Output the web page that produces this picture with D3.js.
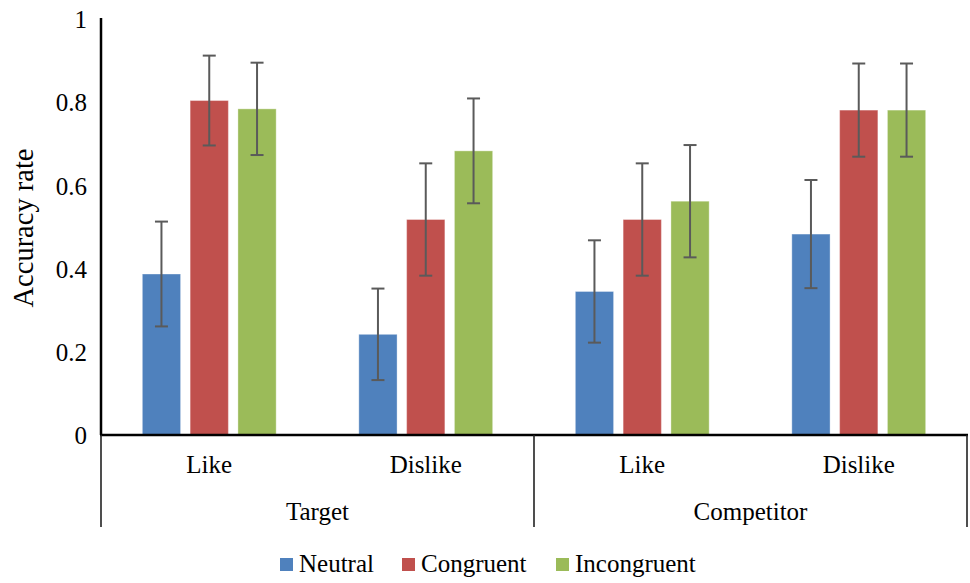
<!DOCTYPE html>
<html>
<head>
<meta charset="utf-8">
<script src="https://cdn.jsdelivr.net/npm/d3@7"></script>
<style>
  html, body { margin: 0; padding: 0; background: #fff; }
  svg { display: block; font-family: "Liberation Serif", "Times New Roman", serif; }
</style>
</head>
<body>
<svg id="chart" width="970" height="583"></svg>
<script>
// Accuracy by condition: Target / Competitor x Like / Dislike
const groups = ["Target", "Competitor"];
const categories = ["Like", "Dislike", "Like", "Dislike"];
const categoryGroup = ["Target", "Target", "Competitor", "Competitor"];
const seriesNames = ["Neutral", "Congruent", "Incongruent"];
const seriesColors = ["#4F81BD", "#C0504D", "#9BBB59"];

const neutral = [0.387, 0.242, 0.345, 0.483];
const congruent = [0.804, 0.518, 0.518, 0.781];
const incongruent = [0.784, 0.683, 0.562, 0.781];

const neutralErr = [0.126, 0.110, 0.123, 0.130];
const congruentErr = [0.108, 0.135, 0.135, 0.112];
const incongruentErr = [0.111, 0.126, 0.135, 0.112];

const yTicks = [0, 0.2, 0.4, 0.6, 0.8, 1];
const yTickLabels = ["0", "0.2", "0.4", "0.6", "0.8", "1"];

const seriesValues = [neutral, congruent, incongruent];
const seriesErrors = [neutralErr, congruentErr, incongruentErr];

const svg = d3.select("#chart");
const plot = { left: 101, right: 967, top: 19, bottom: 435 };

const y = d3.scaleLinear().domain([0, 1]).range([plot.bottom, plot.top]);
const x = d3.scaleBand().domain(d3.range(categories.length))
  .range([plot.left, plot.right]).paddingInner(0).paddingOuter(0);
const xs = d3.scaleBand().domain(seriesNames)
  .range([0, x.bandwidth()]).paddingInner(0.2).paddingOuter(0.865);

// Bars
const cells = [];
categories.forEach((c, i) => {
  seriesNames.forEach((s, j) => {
    cells.push({ i, s, j, v: seriesValues[j][i], e: seriesErrors[j][i] });
  });
});

svg.append("g").selectAll("rect").data(cells).join("rect")
  .attr("x", d => x(d.i) + xs(d.s))
  .attr("y", d => y(d.v))
  .attr("width", xs.bandwidth())
  .attr("height", d => y(0) - y(d.v))
  .attr("fill", d => seriesColors[d.j])
  .attr("stroke", "rgba(255,255,255,0.35)")
  .attr("stroke-width", 1);

// Error bars
const eb = svg.append("g").attr("stroke", "#5a5a5a").attr("stroke-width", 2);
const cx = d => x(d.i) + xs(d.s) + xs.bandwidth() / 2;
eb.selectAll("line.v").data(cells).join("line").attr("class", "v")
  .attr("x1", cx).attr("x2", cx)
  .attr("y1", d => y(d.v + d.e)).attr("y2", d => y(d.v - d.e));
eb.selectAll("line.t").data(cells).join("line").attr("class", "t")
  .attr("x1", d => cx(d) - 6.5).attr("x2", d => cx(d) + 6.5)
  .attr("y1", d => y(d.v + d.e)).attr("y2", d => y(d.v + d.e));
eb.selectAll("line.b").data(cells).join("line").attr("class", "b")
  .attr("x1", d => cx(d) - 6.5).attr("x2", d => cx(d) + 6.5)
  .attr("y1", d => y(d.v - d.e)).attr("y2", d => y(d.v - d.e));

// Y axis
const yAxis = d3.axisLeft(y).tickValues(yTicks)
  .tickFormat((d, i) => yTickLabels[i]).tickSize(0).tickPadding(14);
const yg = svg.append("g").attr("transform", `translate(${plot.left},0)`).call(yAxis);
yg.select(".domain").attr("stroke", "#000").attr("stroke-width", 2.5)
  .attr("d", `M0,${plot.top - 1}V${plot.bottom}`);
yg.selectAll("text").attr("font-size", 25).attr("font-family", "Liberation Serif")
  .attr("fill", "#000").attr("dy", "0.35em");

svg.append("text")
  .attr("transform", "translate(33,228) rotate(-90)")
  .attr("text-anchor", "middle")
  .attr("font-size", 28.5).attr("fill", "#000")
  .text("Accuracy rate");

// X axis baseline
svg.append("line")
  .attr("x1", plot.left - 1).attr("x2", plot.right + 1)
  .attr("y1", y(0)).attr("y2", y(0))
  .attr("stroke", "#000").attr("stroke-width", 2.5);

// Category labels
svg.append("g").selectAll("text").data(categories).join("text")
  .attr("x", (d, i) => x(i) + x.bandwidth() / 2)
  .attr("y", 473)
  .attr("text-anchor", "middle")
  .attr("font-size", 25).attr("fill", "#000")
  .text(d => d);

// Group labels and separators
const groupExtent = groups.map(g => {
  const idx = d3.range(categories.length).filter(i => categoryGroup[i] === g);
  return { g, x0: x(d3.min(idx)), x1: x(d3.max(idx)) + x.bandwidth() };
});
svg.append("g").selectAll("text").data(groupExtent).join("text")
  .attr("x", d => (d.x0 + d.x1) / 2)
  .attr("y", 520)
  .attr("text-anchor", "middle")
  .attr("font-size", 25).attr("fill", "#000")
  .text(d => d.g);

const seps = [groupExtent[0].x0, ...groupExtent.map(d => d.x1)];
svg.append("g").selectAll("line").data(seps).join("line")
  .attr("x1", d => d).attr("x2", d => d)
  .attr("y1", y(0)).attr("y2", 527)
  .attr("stroke", "#222").attr("stroke-width", 1.6);

// Legend
const legendX = [280, 402, 556];
const lg = svg.append("g").selectAll("g").data(seriesNames).join("g")
  .attr("transform", (d, i) => `translate(${legendX[i]},558)`);
lg.append("rect").attr("width", 13).attr("height", 13)
  .attr("fill", (d, i) => seriesColors[i]);
lg.append("text").attr("x", 19).attr("y", 14)
  .attr("font-size", 25).attr("fill", "#000")
  .text(d => d);
</script>
</body>
</html>
